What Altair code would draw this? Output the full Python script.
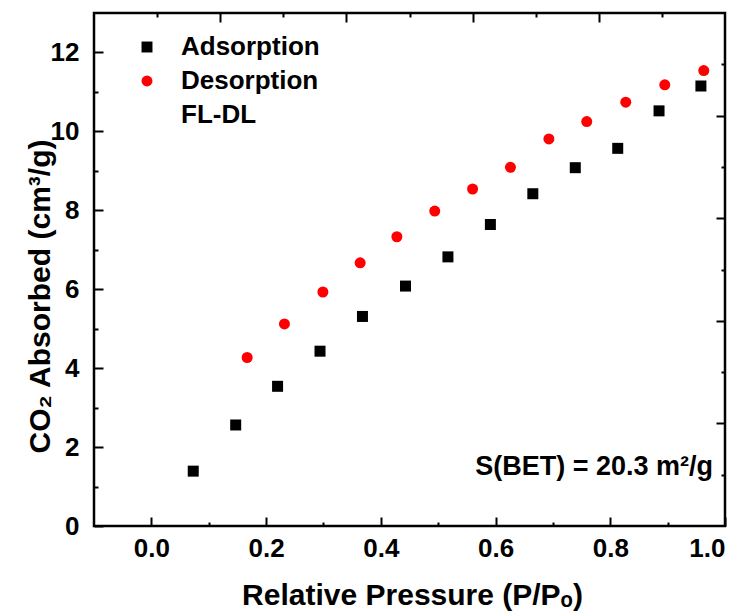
import altair as alt
import pandas as pd

# ---- data ----
ads_x = [0.073, 0.147, 0.220, 0.294, 0.368, 0.443, 0.517, 0.591, 0.665, 0.739, 0.813, 0.885, 0.958]
ads_y = [1.39, 2.56, 3.54, 4.43, 5.31, 6.08, 6.82, 7.64, 8.42, 9.08, 9.57, 10.52, 11.15]
des_x = [0.167, 0.232, 0.299, 0.364, 0.428, 0.494, 0.560, 0.626, 0.693, 0.759, 0.827, 0.895, 0.963]
des_y = [4.27, 5.12, 5.93, 6.67, 7.33, 7.98, 8.54, 9.09, 9.81, 10.25, 10.74, 11.18, 11.54]

series_names = ["Adsorption", "Desorption", "FL-DL"]
series_colors = ["#000000", "#ff0000", "rgba(0,0,0,0)"]
series_shapes = ["square", "circle", "circle"]

x_domain = [-0.1, 1.0]
y_domain = [0, 13]
x_major = [0.0, 0.2, 0.4, 0.6, 0.8, 1.0]
x_minor = [0.1, 0.3, 0.5, 0.7, 0.9]
y_major = [0, 2, 4, 6, 8, 10, 12]
y_minor = [1, 3, 5, 7, 9, 11]
top_major = [0.12, 0.34, 0.56, 0.78]
top_minor = [0.01, 0.23, 0.45, 0.67, 0.89]
right_major = [2.6, 5.2, 7.8, 10.4]
right_minor = [1.3, 3.9, 6.5, 9.1, 11.7]

bet_label = ["S(BET) = 20.3 m²/g"]
bet_x = [0.979]
bet_y = [1.29]

FONT = "Liberation Sans"

df = pd.DataFrame({
    "x": ads_x + des_x,
    "y": ads_y + des_y,
    "series": ["Adsorption"] * len(ads_x) + ["Desorption"] * len(des_x),
})
ann = pd.DataFrame({"x": bet_x, "y": bet_y, "t": bet_label})

xs = alt.Scale(domain=x_domain, nice=False, zero=False)
ys = alt.Scale(domain=y_domain, nice=False, zero=False)

MAJ, MIN = 9, 4


def ax(orient, values, size, labels=False, **kw):
    return alt.Axis(orient=orient, values=values, tickSize=size, offset=-size,
                    domain=False, grid=False, labels=labels, ticks=True,
                    tickColor="black", tickWidth=2, **kw)


x_main = ax("bottom", x_major, MAJ, labels=True, format=".1f",
            labelFont=FONT, labelFontSize=26, labelFontWeight="bold", labelColor="black",
            labelPadding=9, title="Relative Pressure (P/Pₒ)",
            titleFont=FONT, titleFontSize=30, titleFontWeight="bold", titleColor="black",
            titleX=318, titleY=87, titleAlign="center", titleBaseline="alphabetic")
y_main = ax("left", y_major, MAJ, labels=True, format="d",
            labelFont=FONT, labelFontSize=26, labelFontWeight="bold", labelColor="black",
            labelPadding=15, title="CO₂ Absorbed (cm³/g)",
            titleFont=FONT, titleFontSize=30, titleFontWeight="bold", titleColor="black",
            titleX=-54, titleY=283, titleAlign="center", titleBaseline="alphabetic",
            titleAngle=270)

leg = alt.Legend(title=None, orient="none", legendX=40, legendY=21,
                 labelFont=FONT, labelFontSize=26, labelFontWeight="bold",
                 labelColor="black", symbolSize=120, symbolStrokeWidth=0,
                 labelOffset=21, rowPadding=8, padding=0)

points = alt.Chart(df).mark_point(filled=True, size=121, opacity=1, strokeWidth=0).encode(
    x=alt.X("x:Q", scale=xs, axis=x_main),
    y=alt.Y("y:Q", scale=ys, axis=y_main),
    color=alt.Color("series:N",
                    scale=alt.Scale(domain=series_names, range=series_colors), legend=leg),
    shape=alt.Shape("series:N",
                    scale=alt.Scale(domain=series_names, range=series_shapes), legend=leg),
)


def tick_layer(xaxis, yaxis):
    return alt.Chart(df).mark_point(opacity=0, size=1).encode(
        x=alt.X("x:Q", scale=xs, axis=xaxis),
        y=alt.Y("y:Q", scale=ys, axis=yaxis),
    )


minor_lb = tick_layer(ax("bottom", x_minor, MIN, title=None), ax("left", y_minor, MIN, title=None))
major_tr = tick_layer(ax("top", top_major, MAJ, title=None), ax("right", right_major, MAJ, title=None))
minor_tr = tick_layer(ax("top", top_minor, MIN, title=None), ax("right", right_minor, MIN, title=None))

bet = alt.Chart(ann).mark_text(align="right", baseline="alphabetic", font=FONT,
                               fontSize=27, fontWeight="bold", color="black").encode(
    x=alt.X("x:Q", scale=xs, axis=None), y=alt.Y("y:Q", scale=ys, axis=None), text="t:N")

chart = alt.layer(points, minor_lb, major_tr, minor_tr, bet).resolve_axis(
    x="independent", y="independent"
).properties(
    width=631, height=513,
    autosize=alt.AutoSizeParams(type="none"),
    padding={"left": 86, "top": 5, "right": 13, "bottom": 92},
    background="white",
).configure_view(stroke="black", strokeWidth=2.5)

chart.save("out.html", embed_options={"renderer": "svg", "actions": False})
